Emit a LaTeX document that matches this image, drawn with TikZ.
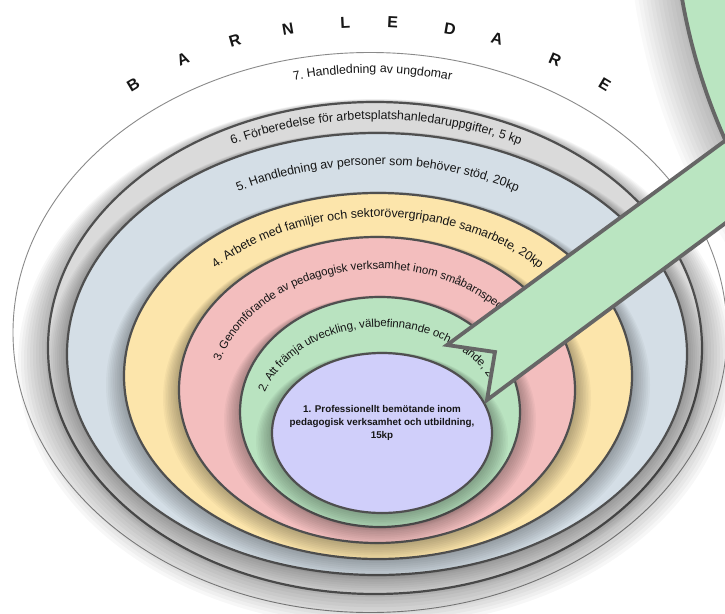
\documentclass[tikz,border=0pt]{standalone}
\usepackage{fontspec}
\setmainfont{Liberation Sans}
\usetikzlibrary{decorations.text}
\definecolor{ringline}{HTML}{4F4F4F}
\definecolor{outerline}{HTML}{8A8A8A}
\definecolor{c6}{HTML}{DADADA}
\definecolor{c5}{HTML}{D4DEE6}
\definecolor{c4}{HTML}{FCE5AB}
\definecolor{c3}{HTML}{F3BEBE}
\definecolor{c2}{HTML}{B9E3C0}
\definecolor{c1}{HTML}{D0CFFA}
\definecolor{calloutfill}{HTML}{BAE5C1}
\definecolor{calloutline}{HTML}{666666}
\definecolor{txt}{HTML}{161616}
% cx cy rx ry fill shadowscale  (image pixel coordinates, y downwards)
\newcommand\ringshape[6]{%
  \foreach \k in {1,...,10}{%
    \fill[black,opacity=0.03] ({#1},{-(#2)-#6*\k}) ellipse [x radius={#3+2*#6*\k}, y radius={#4+1.2*#6*\k}];
  }%
  \filldraw[ring, fill=#5] ({#1},{-(#2)}) ellipse [x radius=#3, y radius=#4];
}
% cx cy rx ry fontsize text
\newcommand\ringtext[6]{%
  \path[decorate, decoration={text along path, text align=center, raise=-3pt,
      text={|\fontsize{#5}{#5}\selectfont\color{txt}|#6}}]
    ([shift={(#1,-#2)}]200:#3 and #4) arc [start angle=200, end angle=-20, x radius=#3, y radius=#4];
}
\begin{document}
\begin{tikzpicture}[x=1pt,y=1pt,
  ring/.style={draw=ringline, line width=2.2pt},
  outerring/.style={draw=outerline, line width=0.9pt, fill=white},
  callout/.style={fill=calloutfill, draw=calloutline, line width=3.8pt, line join=miter},
  titleletter/.style={font=\bfseries\fontsize{16}{16}\selectfont, text=txt, inner sep=0pt},
  coretext/.style={align=center, font=\bfseries\fontsize{9.8}{13}\selectfont, text=txt},
]
\path[use as bounding box] (0,0) rectangle (725,-613);
\clip (0,0) rectangle (725,-613);
\fill[white] (0,0) rectangle (725,-613);

% nested rings (outer to inner)
\filldraw[outerring] (370,-332.5) ellipse [x radius=357, y radius=280];
\ringshape{375}{348}{327}{246}{c6}{1.5}
\ringshape{377}{354}{310}{221}{c5}{1.0}
\ringshape{378}{376}{254}{183}{c4}{0.9}
\ringshape{377}{390}{198}{153}{c3}{0.8}
\ringshape{380}{412}{140}{115}{c2}{0.8}
\ringshape{382}{433}{110}{80}{c1}{0.8}

% ring labels along arcs
\ringtext{372.5}{342}{342}{272}{12.4}{7. Handledning av ungdomar}
\ringtext{376}{351}{318.5}{234.5}{12.4}{6. Förberedelse för arbetsplatshanledaruppgifter, 5 kp}
\ringtext{377.5}{365}{282}{203}{12.4}{5. Handledning av personer som behöver stöd, 20kp}
\ringtext{377.5}{383}{226}{169}{12.4}{4. Arbete med familjer och sektorövergripande samarbete, 20kp}
\ringtext{378.5}{401}{169}{135}{11.5}{3. Genomförande av pedagogisk verksamhet inom småbarnspedagogik, 25kp}
\ringtext{381}{422.5}{125}{98.5}{11.5}{2. Att främja utveckling, välbefinnande och lärande, 25kp}

\node[coretext] (core) at (382,-423) {1. Professionellt bemötande inom\\pedagogisk verksamhet och utbildning,\\15kp};

% callout
\coordinate (pA) at (447,-345);
\coordinate (pN) at (495,-352);
\coordinate (pB) at (487,-400);
\coordinate (pC) at (820,-153);
\coordinate (pD) at (820,-71);
\coordinate (bc) at (1277,106);
\foreach \k in {1,...,12}{%
  \fill[black,opacity=0.025] ({1277-1.2*\k},{106-0.8*\k}) circle [radius={604+2.6*\k}];
}
\filldraw[callout] (pA) -- (pN) -- (pB) -- (pC) -- (pD) -- cycle;
\filldraw[callout] (bc) circle [radius=604];

% title letters along the top arc
\foreach \ch/\t [count=\i] in {B/127.2, A/118.5, R/110.1, N/102, L/93.5, E/86.5, D/78, A/70.8, R/61.5, E/52.8}{%
  \pgfmathsetmacro\rot{atan2(-308*cos(\t), 390*sin(\t))}
  \node[titleletter, rotate=\rot] (L\i) at ([shift={(369,-330)}]\t:390 and 308) {\ch};
}
\end{tikzpicture}
\end{document}
